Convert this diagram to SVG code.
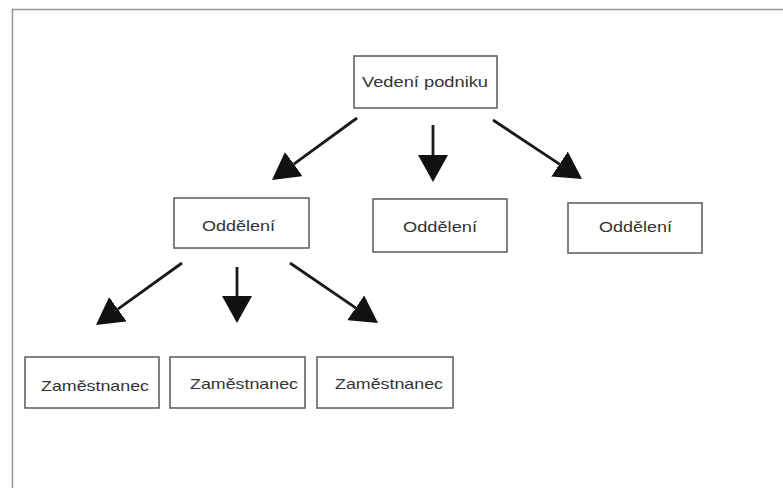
<svg xmlns="http://www.w3.org/2000/svg" width="783" height="488" viewBox="0 0 783 488">
  <style>
    .box { fill: #ffffff; stroke: #5a5a5a; stroke-width: 1.5; }
    .lbl { font-family: "Liberation Sans", Arial, sans-serif; font-size: 15px; fill: #333333; }
    .conn { stroke: #1a1a1a; stroke-width: 2.8; fill: none; marker-end: url(#head); }
    .frame { stroke: #9c9690; stroke-width: 1.5; fill: none; }
  </style>
  <defs>
    <marker id="head" markerUnits="userSpaceOnUse" viewBox="0 0 27 30" markerWidth="27" markerHeight="30" refX="0" refY="15" orient="auto">
      <path d="M0,0 L27,15 L0,30 Z" fill="#111111"/>
    </marker>
  </defs>
  <rect width="783" height="488" fill="#ffffff"/>
  <path class="frame" d="M12.5,488 L12.5,9.5 L783,9.5"/>

  <g id="connectors">
    <line class="conn" x1="357" y1="118" x2="293.8" y2="164.1"/>
    <line class="conn" x1="433" y1="125" x2="433" y2="155"/>
    <line class="conn" x1="493" y1="120" x2="559.5" y2="164.1"/>
    <line class="conn" x1="182" y1="263" x2="117.9" y2="309.2"/>
    <line class="conn" x1="237" y1="267" x2="237" y2="296"/>
    <line class="conn" x1="290" y1="263" x2="355.7" y2="307.8"/>
  </g>

  <g id="vedeni">
    <rect class="box" x="354" y="56" width="143" height="52"/>
    <text class="lbl" x="362" y="87" textLength="126" lengthAdjust="spacingAndGlyphs">Vedení podniku</text>
  </g>
  <g id="oddeleni1">
    <rect class="box" x="174" y="198" width="135" height="50"/>
    <text class="lbl" x="202" y="231" textLength="73" lengthAdjust="spacingAndGlyphs">Oddělení</text>
  </g>
  <g id="oddeleni2">
    <rect class="box" x="373" y="199" width="134" height="53"/>
    <text class="lbl" x="403" y="232" textLength="74" lengthAdjust="spacingAndGlyphs">Oddělení</text>
  </g>
  <g id="oddeleni3">
    <rect class="box" x="568" y="203" width="134" height="50"/>
    <text class="lbl" x="599" y="232" textLength="73" lengthAdjust="spacingAndGlyphs">Oddělení</text>
  </g>
  <g id="zamestnanec1">
    <rect class="box" x="25" y="357" width="134" height="51"/>
    <text class="lbl" x="41" y="391" textLength="108" lengthAdjust="spacingAndGlyphs">Zaměstnanec</text>
  </g>
  <g id="zamestnanec2">
    <rect class="box" x="170" y="357" width="135" height="51"/>
    <text class="lbl" x="190" y="389" textLength="108" lengthAdjust="spacingAndGlyphs">Zaměstnanec</text>
  </g>
  <g id="zamestnanec3">
    <rect class="box" x="317" y="357" width="136" height="51"/>
    <text class="lbl" x="335" y="389" textLength="108" lengthAdjust="spacingAndGlyphs">Zaměstnanec</text>
  </g>
</svg>
